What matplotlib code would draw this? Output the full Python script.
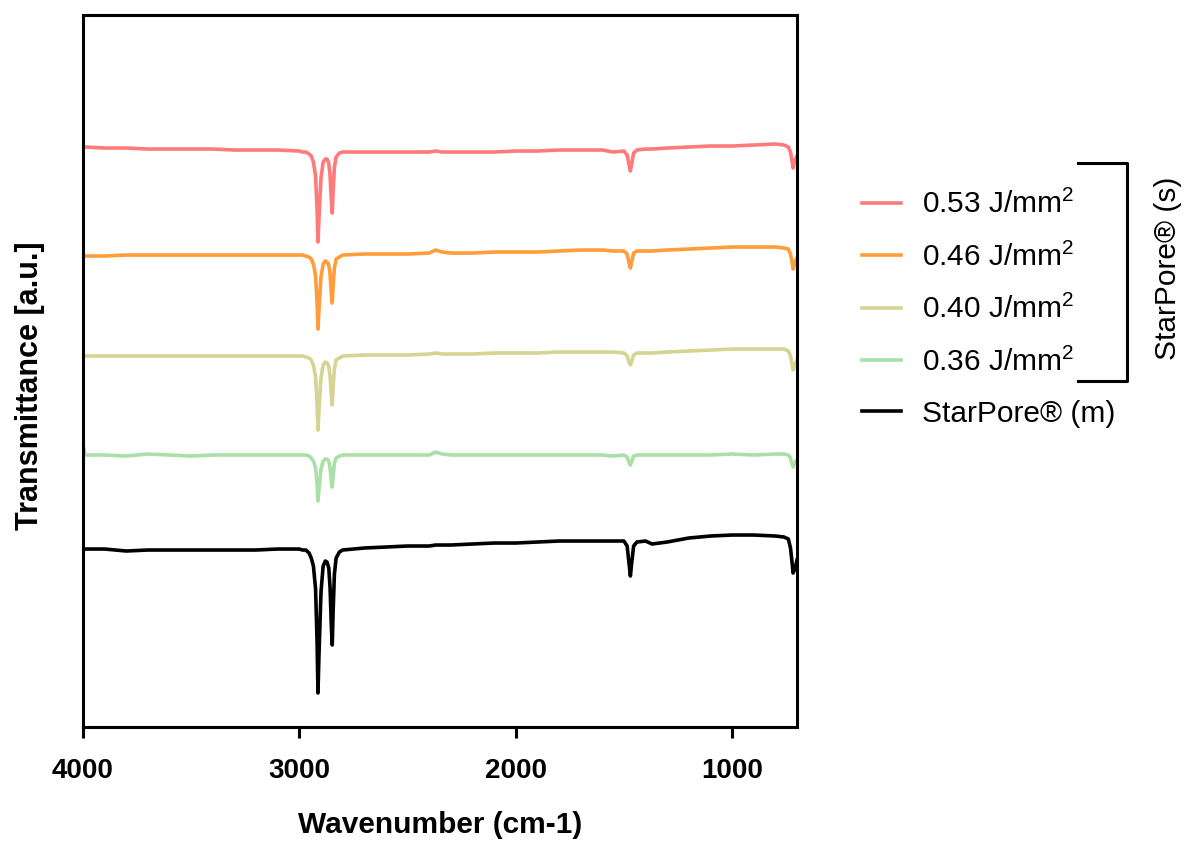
import matplotlib
matplotlib.use("Agg")
import matplotlib.pyplot as plt
from matplotlib.lines import Line2D

plt.rcParams["font.family"] = ["Liberation Sans", "DejaVu Sans"]
plt.rcParams["mathtext.default"] = "regular"

# shared wavenumber grid (cm-1)
wavenumber = [
    4000, 3990, 3900, 3800, 3700, 3600, 3500, 3400, 3300, 3200,
    3100, 3000, 2985, 2970, 2955, 2945, 2935, 2925, 2918, 2914,
    2909, 2900, 2890, 2880, 2872, 2864, 2858, 2852, 2848, 2844,
    2838, 2830, 2815, 2800, 2700, 2600, 2500, 2400, 2370, 2340,
    2300, 2200, 2100, 2000, 1900, 1800, 1700, 1600, 1550, 1500,
    1485, 1475, 1470, 1465, 1455, 1440, 1400, 1370, 1300, 1200,
    1100, 1000, 900, 800, 760, 740, 730, 722, 718, 712,
    705, 700,
]

# stacked transmittance traces (a.u., offsets included)
t_053 = [
    5.80, 5.80, 5.79, 5.79, 5.78, 5.78, 5.78, 5.78, 5.77, 5.77,
    5.77, 5.76, 5.75, 5.75, 5.73, 5.71, 5.65, 5.51, 5.17, 4.85,
    5.10, 5.49, 5.65, 5.68, 5.68, 5.64, 5.51, 5.26, 5.14, 5.36,
    5.60, 5.70, 5.74, 5.75, 5.75, 5.75, 5.75, 5.75, 5.76, 5.75,
    5.75, 5.75, 5.75, 5.76, 5.76, 5.77, 5.77, 5.77, 5.75, 5.76,
    5.72, 5.61, 5.56, 5.62, 5.74, 5.77, 5.78, 5.78, 5.79, 5.80,
    5.81, 5.81, 5.82, 5.83, 5.82, 5.80, 5.75, 5.65, 5.59, 5.64,
    5.69, 5.71,
]
t_046 = [
    4.71, 4.71, 4.71, 4.72, 4.72, 4.72, 4.72, 4.72, 4.72, 4.72,
    4.72, 4.72, 4.72, 4.71, 4.70, 4.68, 4.63, 4.51, 4.24, 3.98,
    4.19, 4.50, 4.63, 4.66, 4.65, 4.62, 4.53, 4.33, 4.24, 4.41,
    4.59, 4.68, 4.70, 4.72, 4.73, 4.73, 4.73, 4.74, 4.77, 4.75,
    4.74, 4.74, 4.75, 4.75, 4.75, 4.76, 4.77, 4.77, 4.76, 4.76,
    4.73, 4.63, 4.59, 4.64, 4.74, 4.76, 4.76, 4.76, 4.77, 4.78,
    4.79, 4.80, 4.80, 4.80, 4.79, 4.78, 4.73, 4.64, 4.58, 4.62,
    4.67, 4.69,
]
t_040 = [
    3.71, 3.71, 3.71, 3.71, 3.71, 3.71, 3.71, 3.71, 3.71, 3.71,
    3.71, 3.71, 3.71, 3.70, 3.69, 3.67, 3.62, 3.50, 3.23, 2.97,
    3.18, 3.49, 3.62, 3.65, 3.64, 3.61, 3.51, 3.31, 3.22, 3.40,
    3.58, 3.67, 3.69, 3.71, 3.72, 3.72, 3.72, 3.73, 3.74, 3.73,
    3.73, 3.73, 3.74, 3.74, 3.74, 3.75, 3.75, 3.75, 3.75, 3.74,
    3.71, 3.64, 3.62, 3.65, 3.72, 3.74, 3.74, 3.74, 3.75, 3.76,
    3.77, 3.78, 3.78, 3.78, 3.78, 3.76, 3.71, 3.62, 3.57, 3.61,
    3.65, 3.67,
]
t_036 = [
    2.83, 2.72, 2.72, 2.71, 2.73, 2.72, 2.71, 2.72, 2.72, 2.72,
    2.72, 2.72, 2.72, 2.72, 2.71, 2.69, 2.66, 2.59, 2.42, 2.26,
    2.39, 2.58, 2.66, 2.68, 2.68, 2.66, 2.59, 2.46, 2.40, 2.51,
    2.64, 2.69, 2.71, 2.72, 2.72, 2.72, 2.72, 2.72, 2.75, 2.73,
    2.72, 2.72, 2.72, 2.72, 2.72, 2.72, 2.72, 2.72, 2.71, 2.72,
    2.70, 2.64, 2.62, 2.65, 2.71, 2.72, 2.72, 2.72, 2.72, 2.72,
    2.72, 2.73, 2.72, 2.73, 2.73, 2.72, 2.69, 2.63, 2.60, 2.63,
    2.66, 2.67,
]
t_melt = [
    1.78, 1.78, 1.78, 1.76, 1.77, 1.77, 1.77, 1.77, 1.77, 1.77,
    1.78, 1.78, 1.77, 1.77, 1.74, 1.69, 1.61, 1.38, 0.84, 0.34,
    0.74, 1.35, 1.61, 1.66, 1.65, 1.59, 1.39, 1.00, 0.82, 1.15,
    1.53, 1.69, 1.75, 1.77, 1.79, 1.80, 1.81, 1.81, 1.82, 1.82,
    1.82, 1.83, 1.84, 1.84, 1.85, 1.86, 1.86, 1.86, 1.86, 1.86,
    1.81, 1.61, 1.51, 1.62, 1.81, 1.85, 1.86, 1.83, 1.85, 1.89,
    1.91, 1.92, 1.92, 1.91, 1.90, 1.88, 1.79, 1.63, 1.54, 1.57,
    1.62, 1.67,
]

labels = ["0.53 J/mm$^2$", "0.46 J/mm$^2$", "0.40 J/mm$^2$",
          "0.36 J/mm$^2$", "StarPore\u00ae (m)"]
colors = ["#ff7a7a", "#ff9d3a", "#d6d492", "#a8e0a8", "#000000"]
traces = [t_053, t_046, t_040, t_036, t_melt]


def main() -> None:
    fig = plt.figure(figsize=(11.89, 8.44), dpi=100)
    ax = fig.add_axes([0.0698, 0.1386, 0.6005, 0.8436])

    for y, c, lab in zip(traces, colors, labels):
        ax.plot(wavenumber, y, color=c, lw=2.6, label=lab)

    ax.set_xlim(4000, 700)
    ax.set_ylim(0, 7.12)
    ax.set_xticks([4000, 3000, 2000, 1000])
    ax.set_yticks([])
    for s in ax.spines.values():
        s.set_linewidth(2.2)
    ax.tick_params(axis="x", direction="out", length=8, width=2.2, pad=14)
    for t in ax.get_xticklabels():
        t.set_fontweight("bold")
        t.set_fontsize(20)

    ax.set_xlabel("Wavenumber (cm-1)", fontsize=21.5, fontweight="bold",
                  labelpad=20)
    ax.set_ylabel("Transmittance [a.u.]", fontsize=22, fontweight="bold")
    ax.yaxis.set_label_coords(-0.053, 0.48)

    fig.legend(loc="center left", bbox_to_anchor=(0.725, 0.634),
               frameon=False, fontsize=21.5, handlelength=1.3,
               handletextpad=0.7, labelspacing=0.78, borderpad=0,
               borderaxespad=0)

    # bracket grouping the scanned samples
    bx, x0 = 1127 / 1189, 1078 / 1189
    y_top, y_bot = (844 - 163) / 844, (844 - 381) / 844
    fig.add_artist(Line2D([x0, bx, bx, x0], [y_top, y_top, y_bot, y_bot],
                          transform=fig.transFigure, color="black", lw=2.2))
    fig.text(1168 / 1189, (844 - 268) / 844, "StarPore\u00ae (s)",
             rotation=90, ha="center", va="center", fontsize=21.5)

    fig.savefig("out.png", dpi=100)


if __name__ == "__main__":
    main()
